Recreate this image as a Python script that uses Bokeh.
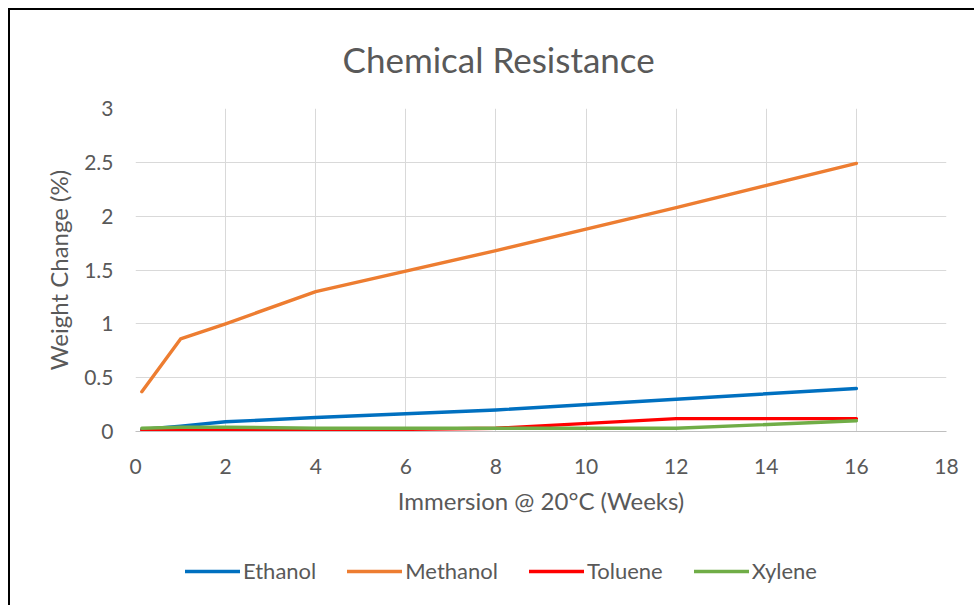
from bokeh.plotting import figure
from bokeh.layouts import column
from bokeh.models import Legend, LegendItem, Range1d, FixedTicker
from bokeh.embed import file_html
from bokeh.resources import INLINE

weeks = [0.14, 1, 2, 4, 8, 12, 16]
ethanol = [0.02, 0.05, 0.09, 0.13, 0.20, 0.30, 0.40]
methanol = [0.37, 0.86, 1.00, 1.30, 1.68, 2.08, 2.49]
toluene = [0.01, 0.01, 0.01, 0.01, 0.03, 0.12, 0.12]
xylene = [0.03, 0.04, 0.04, 0.03, 0.03, 0.03, 0.10]

series_names = ["Ethanol", "Methanol", "Toluene", "Xylene"]
series_values = [ethanol, methanol, toluene, xylene]
colors = ["#0070C0", "#ED7D31", "#FF0000", "#70AD47"]

x_ticks = [0, 2, 4, 6, 8, 10, 12, 14, 16, 18]
y_ticks = [0, 0.5, 1, 1.5, 2, 2.5, 3]

FONT = "Lato"
TXT = "#595959"

p = figure(width=964, height=535, output_backend="svg", toolbar_location=None,
           x_range=Range1d(0, 18), y_range=Range1d(0, 3),
           min_border_left=125, min_border_right=28, min_border_top=98,
           min_border_bottom=114)

p.title.text = "Chemical Resistance"
p.title.align = "left"
p.title.vertical_align = "top"
p.title.text_font = FONT
p.title.text_font_size = "35px"
p.title.text_font_style = "normal"
p.title.text_color = TXT
p.title.standoff = 53
p.title.offset = 207

for name, vals, c in zip(series_names, series_values, colors):
    p.line(weeks, vals, line_color=c, line_width=3.4, line_join="round", line_cap="round")

p.outline_line_color = None
p.background_fill_color = "white"
p.border_fill_color = "white"

p.xaxis.ticker = FixedTicker(ticks=x_ticks)
p.yaxis.ticker = FixedTicker(ticks=y_ticks)
p.yaxis.formatter.use_scientific = False

for ax in (p.xaxis[0], p.yaxis[0]):
    ax.major_tick_line_color = None
    ax.minor_tick_line_color = None
    ax.major_label_text_font = FONT
    ax.major_label_text_font_size = "21px"
    ax.major_label_text_color = TXT
    ax.axis_label_text_font = FONT
    ax.axis_label_text_font_size = "24px"
    ax.axis_label_text_font_style = "normal"
    ax.axis_label_text_color = TXT

p.xaxis.axis_label = "Immersion @ 20°C (Weeks)"
p.yaxis.axis_label = "Weight Change (%)"
p.xaxis.axis_line_color = "#BFBFBF"
p.xaxis.axis_line_width = 1
p.yaxis.axis_line_color = None
p.xaxis.major_label_standoff = 21
p.yaxis.major_label_standoff = 16
p.xaxis.axis_label_standoff = 9
p.yaxis.axis_label_standoff = 8

p.xgrid.grid_line_color = "#D9D9D9"
p.ygrid.grid_line_color = "#D9D9D9"
p.xgrid.grid_line_width = 1
p.ygrid.grid_line_width = 1

# legend strip below the chart (hidden copies of the series supply the legend glyphs)
lp = figure(width=964, height=60, output_backend="svg", toolbar_location=None,
            x_range=Range1d(0, 18), y_range=Range1d(0, 3),
            min_border=0)
lp.axis.visible = False
lp.grid.visible = False
lp.outline_line_color = None
lp.border_fill_color = "white"
items = []
for name, vals, c in zip(series_names, series_values, colors):
    r = lp.line(weeks, vals, line_color=c, line_width=3.4, line_cap="round", visible=False)
    items.append(LegendItem(label=name, renderers=[r]))

legend = Legend(items=items, orientation="horizontal", location=(50, 21))
legend.label_text_font = FONT
legend.label_text_font_size = "22px"
legend.label_text_color = TXT
legend.glyph_width = 55
legend.glyph_height = 20
legend.label_height = 20
legend.label_standoff = 3
legend.spacing = 31
legend.padding = 0
legend.margin = 0
legend.border_line_color = None
legend.background_fill_alpha = 0
lp.add_layout(legend)

layout = column(p, lp, spacing=0)
layout.styles = {"margin-left": "8px", "margin-top": "8px",
                 "border-left": "2px solid black", "border-top": "2px solid black"}

open("out.html", "w").write(file_html(layout, INLINE))
